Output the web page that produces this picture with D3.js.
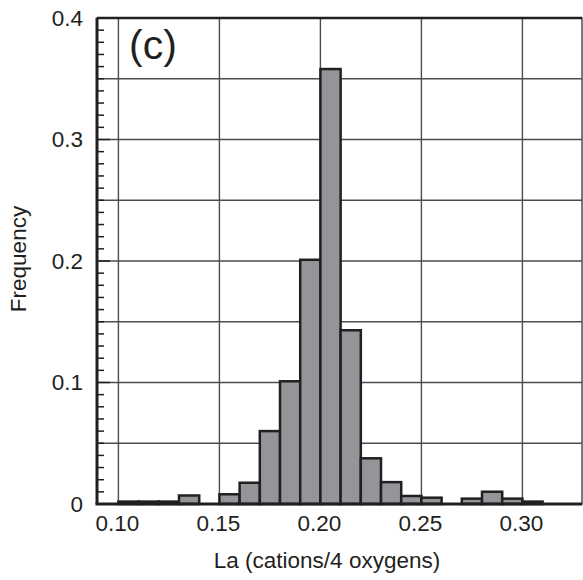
<!DOCTYPE html>
<html lang="en">
<head>
<meta charset="utf-8">
<title>La histogram</title>
<style>
  body { margin: 0; background: #fff; }
  text { font-family: "Liberation Sans", Arial, sans-serif; fill: #231f20; }
  .grid line { stroke: #4d4d4f; stroke-width: 1.4px; }
  .bar { fill: #939598; stroke: #231f20; stroke-width: 2.5px; }
</style>
</head>
<body>
<div id="chart"></div>
<script src="https://cdn.jsdelivr.net/npm/d3@7"></script>
<script>
// bin left edges (La cations / 4 oxygens), bin width 0.01
var binStarts = [0.10, 0.11, 0.12, 0.13, 0.14, 0.15, 0.16, 0.17, 0.18, 0.19, 0.20,
                 0.21, 0.22, 0.23, 0.24, 0.25, 0.26, 0.27, 0.28, 0.29, 0.30];
var frequency = [0.002, 0.002, 0.002, 0.007, 0.0, 0.008, 0.0175, 0.060, 0.101, 0.201, 0.358,
                 0.143, 0.0376, 0.018, 0.0066, 0.0052, 0.0, 0.0044, 0.0101, 0.0044, 0.002];
var xTicks = [0.10, 0.15, 0.20, 0.25, 0.30];
var yTicks = [0, 0.1, 0.2, 0.3, 0.4];
var binWidth = 0.01;

var width = 583, height = 580;
var mLeft = 97, mRight = 582, mTop = 18, mBottom = 504;

var svg = d3.select("#chart").append("svg")
    .attr("width", width)
    .attr("height", height);

var x = d3.scaleLinear().domain([0.0894, 0.3295]).range([mLeft, mRight]);
var y = d3.scaleLinear().domain([0, 0.4]).range([mBottom, mTop]);

// grid
var grid = svg.append("g").attr("class", "grid");
grid.selectAll(".vx")
    .data(d3.range(0.10, 0.301, 0.05))
  .enter().append("line")
    .attr("x1", function(d) { return x(d); })
    .attr("x2", function(d) { return x(d); })
    .attr("y1", mTop).attr("y2", mBottom);
grid.selectAll(".hy")
    .data(d3.range(0.05, 0.351, 0.05))
  .enter().append("line")
    .attr("y1", function(d) { return y(d); })
    .attr("y2", function(d) { return y(d); })
    .attr("x1", mLeft).attr("x2", mRight);

// minor ticks on the left axis
svg.append("g").selectAll("line")
    .data(d3.range(1, 40).map(function(i) { return i / 100; }))
  .enter().append("line")
    .attr("x1", mLeft).attr("x2", function(d, i) { return mLeft + ((i + 1) % 10 === 0 ? 13 : 7); })
    .attr("y1", function(d) { return y(d); })
    .attr("y2", function(d) { return y(d); })
    .attr("stroke", "#231f20")
    .attr("stroke-width", 1.5);

// bars
svg.append("g").selectAll("rect")
    .data(binStarts)
  .enter().append("rect")
    .attr("class", "bar")
    .attr("x", function(d) { return x(d); })
    .attr("width", function(d) { return x(d + binWidth) - x(d); })
    .attr("y", function(d, i) { return y(frequency[i]); })
    .attr("height", function(d, i) { return y(0) - y(frequency[i]); })
    .style("display", function(d, i) { return frequency[i] > 0 ? null : "none"; });

// frame
svg.append("rect")
    .attr("x", mLeft).attr("y", mTop)
    .attr("width", mRight - mLeft).attr("height", mBottom - mTop)
    .attr("fill", "none")
    .attr("stroke", "#4d4d4f")
    .attr("stroke-width", 1.5);
svg.append("line")
    .attr("x1", mLeft).attr("x2", mLeft).attr("y1", mTop).attr("y2", mBottom)
    .attr("stroke", "#231f20").attr("stroke-width", 3);
svg.append("line")
    .attr("x1", mLeft - 1.5).attr("x2", mRight).attr("y1", mBottom).attr("y2", mBottom)
    .attr("stroke", "#231f20").attr("stroke-width", 3);
svg.append("line")
    .attr("x1", mLeft).attr("x2", mRight).attr("y1", mTop).attr("y2", mTop)
    .attr("stroke", "#231f20").attr("stroke-width", 2.5);

// tick labels
svg.append("g").selectAll("text")
    .data(xTicks)
  .enter().append("text")
    .attr("x", function(d) { return x(d) - 1; })
    .attr("y", 531)
    .attr("text-anchor", "middle")
    .style("font-size", "22.5px")
    .text(function(d) { return d.toFixed(2); });

svg.append("g").selectAll("text")
    .data(yTicks)
  .enter().append("text")
    .attr("x", 83)
    .attr("y", function(d) { return y(d) + 7.5; })
    .attr("text-anchor", "end")
    .style("font-size", "22.5px")
    .text(function(d) { return d === 0 ? "0" : d.toFixed(1); });

// axis titles
svg.append("text")
    .attr("x", 327)
    .attr("y", 568)
    .attr("text-anchor", "middle")
    .style("font-size", "22.5px")
    .text("La (cations/4 oxygens)");

svg.append("text")
    .attr("transform", "translate(25.5,259) rotate(-90)")
    .attr("text-anchor", "middle")
    .style("font-size", "22.5px")
    .text("Frequency");

svg.append("text")
    .attr("x", 129)
    .attr("y", 59)
    .style("font-size", "41px")
    .text("(c)");
</script>
</body>
</html>
